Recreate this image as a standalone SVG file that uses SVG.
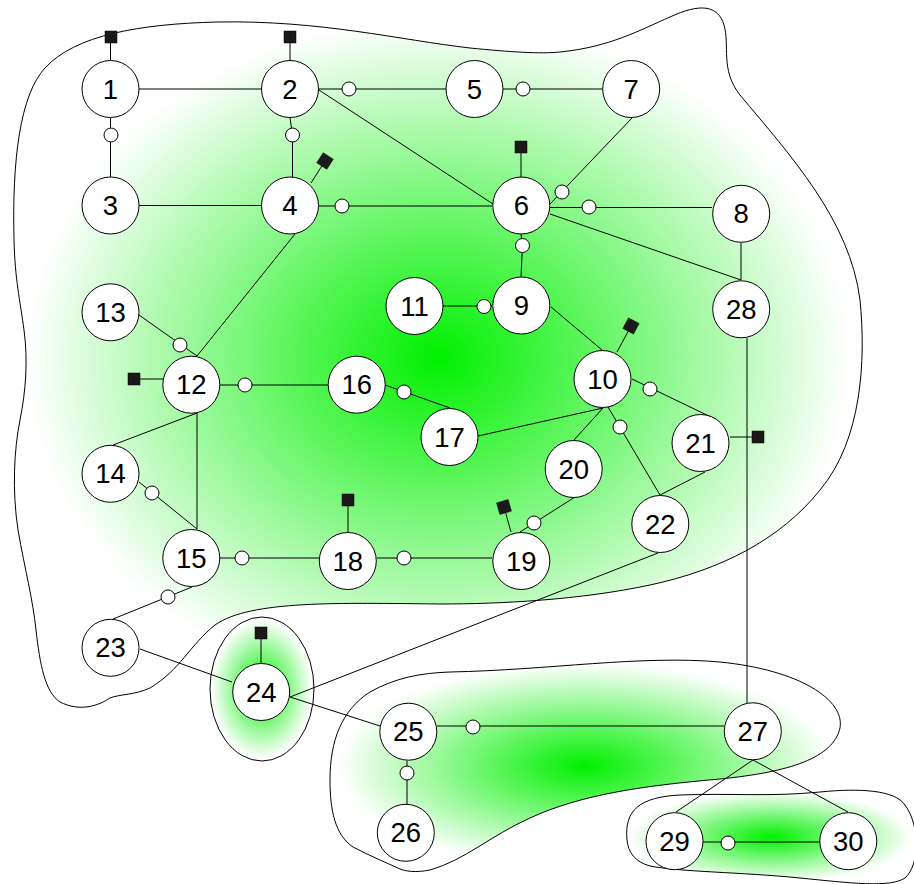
<svg xmlns="http://www.w3.org/2000/svg" width="914" height="884" viewBox="0 0 914 884">
  <defs>
    <radialGradient id="glow">
      <stop offset="0" stop-color="#00f000"/>
      <stop offset="0.97" stop-color="#ffffff"/>
    </radialGradient>
    <style>
      .cluster { fill: url(#glow); stroke: #000; stroke-width: 1; }
      .node circle { fill: #fff; stroke: #000; stroke-width: 1; }
      .node text { font-family: "Liberation Sans", Arial, sans-serif; font-size: 27.5px; text-anchor: middle; fill: #000; }
      .edges path { fill: none; stroke: #000; stroke-width: 1; }
      .port { fill: #fff; stroke: #000; stroke-width: 1; }
      .term { fill: #1a1a1a; stroke: #000; stroke-width: 0.5; }
    </style>
  </defs>

  <rect width="914" height="884" fill="#fff"/>

  <!-- cluster outlines -->
  <g id="clusters">
    <path class="cluster" d="M 14,240 C 12,160 20,95 45,68 C 75,35 140,24 217,22 C 320,20 400,40 470,48 C 510,52 540,54 560,52 C 610,47 640,30 670,17 C 700,3 718,5 724,25 C 730,45 720,70 740,95 C 790,155 850,220 860,300 C 866,360 862,440 820,490 C 780,540 720,570 650,585 C 580,600 500,604 440,604 C 340,603 250,600 215,625 C 190,645 180,670 150,688 C 135,695 120,694 110,698 C 98,706 80,712 60,702 C 45,692 40,665 36,630 C 33,600 25,570 18,530 C 12,490 14,450 20,420 C 26,390 28,360 24,330 C 20,300 15,280 14,240 Z"/>
    <ellipse class="cluster" cx="262" cy="689" rx="52" ry="72"/>
    <path class="cluster" d="M 450,672 C 550,670 640,655 720,662 C 800,670 845,700 840,728 C 833,758 790,772 720,779 C 640,786 580,795 530,818 C 490,836 465,860 430,870 C 415,873 405,871 400,869 C 385,862 370,856 353,847 C 335,835 330,810 330,780 C 330,740 342,710 370,692 C 395,678 420,673 450,672 Z"/>
    <path class="cluster" d="M 627,840 C 624,810 640,797 680,795 C 730,793 770,797 820,792 C 860,788 895,790 905,805 C 920,825 920,865 905,878 C 890,888 850,883 800,878 C 740,872 680,872 650,866 C 635,862 628,852 627,840 Z"/>
  </g>

  <!-- connectors -->
  <g id="edges" class="edges">
    <path d="M139,89 H261"/>
    <path d="M139,205.5 H261"/>
    <path d="M319,90 L493,204"/>
    <path d="M295,234 L197,356"/>
    <path d="M550,214 L741,280"/>
    <path d="M741,243 V280"/>
    <path d="M551,307 L602,350"/>
    <path d="M603,408 L478,436"/>
    <path d="M603,408 L574,440"/>
    <path d="M705,472 L660,495"/>
    <path d="M747,338 V703"/>
    <path d="M197,413 L113,445"/>
    <path d="M197,413 V529"/>
    <path d="M658,553 L290,697"/>
    <path d="M140,649 L232,682"/>
    <path d="M290,697 L380,726"/>
    <path d="M753,760 L676,812"/>
    <path d="M753,760 L848,812"/>
    <!-- links through a port -->
    <path d="M110.5,118 V177"/>
    <path d="M290,118 L292.5,135 V177"/>
    <path d="M319,89 H446"/>
    <path d="M319,206 H492"/>
    <path d="M503,89 H602"/>
    <path d="M632,118 L550,204"/>
    <path d="M550,207.5 H712"/>
    <path d="M521,234 L522.5,245.5 L521,277"/>
    <path d="M443,306 H492"/>
    <path d="M139,315 L197,356"/>
    <path d="M220,385 H328"/>
    <path d="M385,385 L450,408"/>
    <path d="M139,482 L197,529"/>
    <path d="M220,558 H319"/>
    <path d="M377,558 H492"/>
    <path d="M632,379 L713,418"/>
    <path d="M608,407 L660,495"/>
    <path d="M520,532 L575,497"/>
    <path d="M192,587 L113,619"/>
    <path d="M437,726 H724"/>
    <path d="M407,761 V804"/>
    <path d="M703,842 H820"/>
    <!-- terminal stubs -->
    <path d="M110.5,43 V60"/>
    <path d="M290,43 V60"/>
    <path d="M521,153 V177"/>
    <path d="M348,506 V532"/>
    <path d="M261,639 V663"/>
    <path d="M140,379 H163"/>
    <path d="M311,183 L325,161"/>
    <path d="M617,352 L631,326"/>
    <path d="M511,532 L504,507"/>
    <path d="M730,437 H758"/>
  </g>

  <!-- ports -->
  <g id="ports">
    <circle class="port" cx="111" cy="135" r="7"/>
    <circle class="port" cx="292.5" cy="135" r="7"/>
    <circle class="port" cx="349" cy="89" r="7"/>
    <circle class="port" cx="342" cy="206" r="7"/>
    <circle class="port" cx="523" cy="89" r="7"/>
    <circle class="port" cx="562" cy="192" r="7"/>
    <circle class="port" cx="589" cy="207" r="7"/>
    <circle class="port" cx="522.5" cy="245.5" r="7"/>
    <circle class="port" cx="484" cy="306.5" r="7"/>
    <circle class="port" cx="180" cy="345" r="7"/>
    <circle class="port" cx="245" cy="385" r="7"/>
    <circle class="port" cx="404" cy="392" r="7"/>
    <circle class="port" cx="152" cy="493" r="7"/>
    <circle class="port" cx="242" cy="558" r="7"/>
    <circle class="port" cx="404" cy="558" r="7"/>
    <circle class="port" cx="650" cy="389" r="7"/>
    <circle class="port" cx="620" cy="427" r="7"/>
    <circle class="port" cx="534" cy="523" r="7"/>
    <circle class="port" cx="168" cy="597" r="7"/>
    <circle class="port" cx="473" cy="727" r="7"/>
    <circle class="port" cx="407" cy="773" r="7"/>
    <circle class="port" cx="728" cy="843" r="7"/>
  </g>

  <!-- terminals -->
  <g id="terminals">
    <rect class="term" x="105" y="31" width="12" height="12"/>
    <rect class="term" x="284" y="31" width="12" height="12"/>
    <rect class="term" x="515" y="141" width="12" height="12"/>
    <rect class="term" x="342" y="494" width="12" height="12"/>
    <rect class="term" x="255" y="627" width="12" height="12"/>
    <rect class="term" x="128" y="373" width="12" height="12"/>
    <rect class="term" x="752" y="431" width="12" height="12"/>
    <rect class="term" x="-6" y="-6" width="12" height="12" transform="translate(325,161) rotate(33)"/>
    <rect class="term" x="-6" y="-6" width="12" height="12" transform="translate(631,326) rotate(28)"/>
    <rect class="term" x="-6" y="-6" width="12" height="12" transform="translate(504,507) rotate(-16)"/>
  </g>

  <!-- nodes -->
  <g id="n1" class="node"><circle cx="110.5" cy="89" r="28.5"/><text x="110.5" y="98.5">1</text></g>
  <g id="n2" class="node"><circle cx="290" cy="89" r="28.5"/><text x="290" y="98.5">2</text></g>
  <g id="n3" class="node"><circle cx="110.5" cy="205.5" r="28.5"/><text x="110.5" y="215">3</text></g>
  <g id="n4" class="node"><circle cx="290" cy="205.5" r="28.5"/><text x="290" y="215">4</text></g>
  <g id="n5" class="node"><circle cx="474.5" cy="89" r="28.5"/><text x="474.5" y="98.5">5</text></g>
  <g id="n6" class="node"><circle cx="521.3" cy="205.5" r="28.5"/><text x="521.3" y="215">6</text></g>
  <g id="n7" class="node"><circle cx="631.2" cy="89" r="28.5"/><text x="631.2" y="98.5">7</text></g>
  <g id="n8" class="node"><circle cx="741.2" cy="213.8" r="28.5"/><text x="741.2" y="223.3">8</text></g>
  <g id="n9" class="node"><circle cx="521.3" cy="305.5" r="28.5"/><text x="521.3" y="315">9</text></g>
  <g id="n10" class="node"><circle cx="602.5" cy="379" r="28.5"/><text x="602.5" y="388.5">10</text></g>
  <g id="n11" class="node"><circle cx="414.5" cy="306" r="28.5"/><text x="414.5" y="315.5">11</text></g>
  <g id="n12" class="node"><circle cx="191.3" cy="384.7" r="28.5"/><text x="191.3" y="394.2">12</text></g>
  <g id="n13" class="node"><circle cx="110.5" cy="312.3" r="28.5"/><text x="110.5" y="321.8">13</text></g>
  <g id="n14" class="node"><circle cx="110.5" cy="473.8" r="28.5"/><text x="110.5" y="483.3">14</text></g>
  <g id="n15" class="node"><circle cx="191.3" cy="558" r="28.5"/><text x="191.3" y="567.5">15</text></g>
  <g id="n16" class="node"><circle cx="356.7" cy="384.7" r="28.5"/><text x="356.7" y="394.2">16</text></g>
  <g id="n17" class="node"><circle cx="449.5" cy="437" r="28.5"/><text x="449.5" y="446.5">17</text></g>
  <g id="n18" class="node"><circle cx="347.8" cy="561" r="28.5"/><text x="347.8" y="570.5">18</text></g>
  <g id="n19" class="node"><circle cx="521.3" cy="561" r="28.5"/><text x="521.3" y="570.5">19</text></g>
  <g id="n20" class="node"><circle cx="573.7" cy="469" r="28.5"/><text x="573.7" y="478.5">20</text></g>
  <g id="n21" class="node"><circle cx="700.5" cy="443" r="28.5"/><text x="700.5" y="452.5">21</text></g>
  <g id="n22" class="node"><circle cx="660.3" cy="524" r="28.5"/><text x="660.3" y="533.5">22</text></g>
  <g id="n23" class="node"><circle cx="110.5" cy="647.8" r="28.5"/><text x="110.5" y="657.3">23</text></g>
  <g id="n24" class="node"><circle cx="261.2" cy="692" r="28.5"/><text x="261.2" y="701.5">24</text></g>
  <g id="n25" class="node"><circle cx="408.3" cy="731.7" r="28.5"/><text x="408.3" y="741.2">25</text></g>
  <g id="n26" class="node"><circle cx="405.8" cy="832.8" r="28.5"/><text x="405.8" y="842.3">26</text></g>
  <g id="n27" class="node"><circle cx="752.8" cy="731.3" r="28.5"/><text x="752.8" y="740.8">27</text></g>
  <g id="n28" class="node"><circle cx="741.2" cy="309.3" r="28.5"/><text x="741.2" y="318.8">28</text></g>
  <g id="n29" class="node"><circle cx="674.5" cy="841.2" r="28.5"/><text x="674.5" y="850.7">29</text></g>
  <g id="n30" class="node"><circle cx="848.3" cy="841.2" r="28.5"/><text x="848.3" y="850.7">30</text></g>
</svg>
